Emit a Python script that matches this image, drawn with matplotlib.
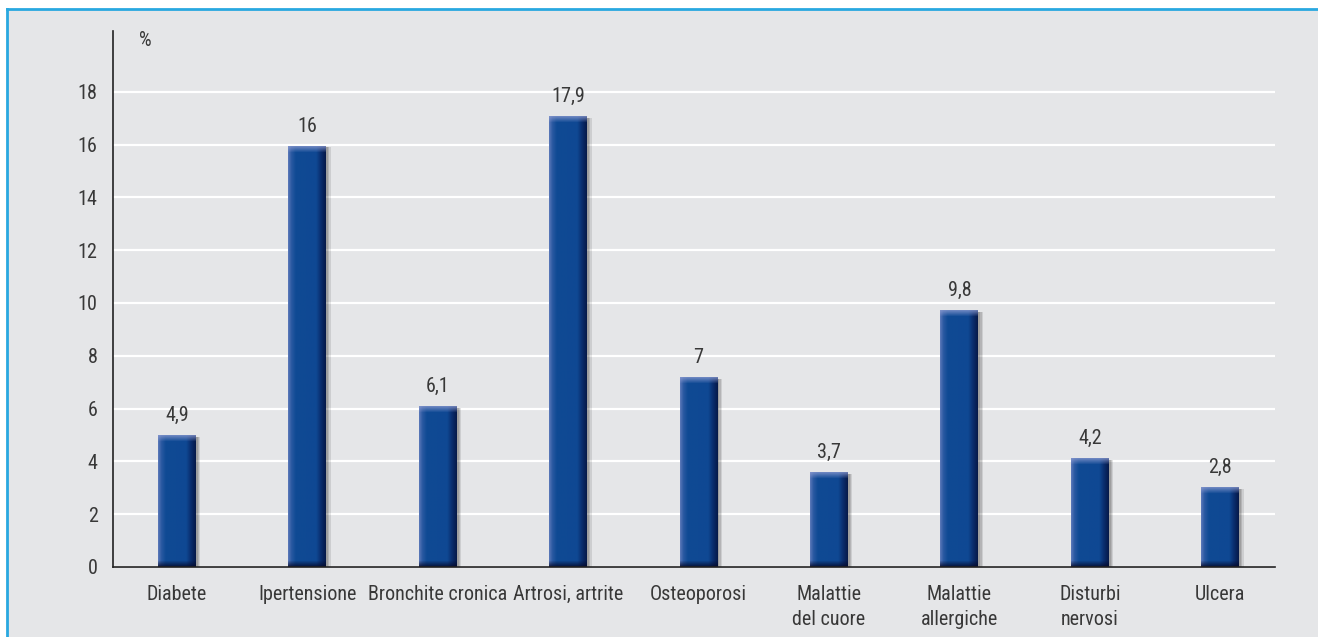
import numpy as np
import matplotlib.pyplot as plt
from matplotlib import font_manager as fm
from matplotlib.colors import to_rgb
from matplotlib.patches import Rectangle
from matplotlib.lines import Line2D

# Data
categories = ['Diabete', 'Ipertensione', 'Bronchite cronica', 'Artrosi, artrite',
              'Osteoporosi', 'Malattie\ndel cuore', 'Malattie\nallergiche',
              'Disturbi\nnervosi', 'Ulcera']
# bar heights as drawn in the picture
bar_heights = [4.97, 15.94, 6.07, 17.05, 7.18, 3.57, 9.72, 4.12, 3.02]
# values printed above the bars
value_labels = ['4,9', '16', '6,1', '17,9', '7', '3,7', '9,8', '4,2', '2,8']
yticks = [0, 2, 4, 6, 8, 10, 12, 14, 16, 18]

W, H = 1318, 637

# pick a narrow sans if one is installed
available = {f.name for f in fm.fontManager.ttflist}
narrow = None
for name in ['Liberation Sans Narrow', 'Arial Narrow', 'Roboto Condensed',
             'Archivo Narrow', 'PT Sans Narrow', 'Pragati Narrow', 'Asap Condensed',
             'IBM Plex Sans Condensed', 'Encode Sans Condensed']:
    if name in available:
        narrow = name
        break
families = ([narrow] if narrow else []) + ['Liberation Sans', 'DejaVu Sans']
plt.rcParams['font.family'] = families
fsize = 14.5 if narrow else 12
text_color = '#383838'

fig = plt.figure(figsize=(W / 100, H / 100), dpi=100)
fig.patch.set_facecolor('white')

# gray panel with blue left/top border
fig.patches.append(Rectangle((7 / W, 0), 1, 1 - 9 / H, transform=fig.transFigure,
                             facecolor='#e5e6e8', edgecolor='none', zorder=-2))
border = '#29a8e0'
fig.lines.append(Line2D([7 / W, 7 / W], [0, 1 - 9 / H], transform=fig.transFigure,
                        color=border, lw=2, zorder=-1))
fig.lines.append(Line2D([7 / W, 1], [1 - 9 / H, 1 - 9 / H], transform=fig.transFigure,
                        color=border, lw=2, zorder=-1))

ax = fig.add_axes([113 / W, 1 - 567 / H, (1275 - 113) / W, (567 - 31) / H])
ax.set_facecolor('none')

ymax = 20.3
width = 0.29
x = np.arange(len(categories))

# horizontal shading of the bar body
stops = [0.0, 0.08, 0.2, 0.75, 0.88, 1.0]
cols = [to_rgb(c) for c in ['#5a78b8', '#2c5aa2', '#0f4a94', '#0f4893', '#0a2c6c', '#061a4a']]
u = np.linspace(0, 1, 60)
row = np.stack([np.interp(u, stops, [c[i] for c in cols]) for i in range(3)], axis=-1)

ppu = (567 - 31) / ymax  # pixels per data unit
cap_top = np.array(to_rgb('#8a9ad0'))
cap_bot = np.array(to_rgb('#050c30'))

for xi, v in zip(x, bar_heights):
    # soft shadow on the right
    for k, a in [(0.035, 0.10), (0.025, 0.12), (0.015, 0.12)]:
        ax.bar(xi + k, v - 0.05, width, color='black', alpha=a, zorder=2, linewidth=0)
    ny = max(int(v * ppu), 10)
    img = np.repeat(row[None, :, :], ny, axis=0).copy()
    for r in range(6):  # light cap on top
        t = 1 - r / 6
        img[r] = img[r] * (1 - 0.75 * t) + cap_top * 0.75 * t
    for r in range(6):  # dark foot
        t = (r + 1) / 6
        img[ny - 6 + r] = img[ny - 6 + r] * (1 - 0.85 * t) + cap_bot * 0.85 * t
    ax.imshow(img, extent=(xi - width / 2, xi + width / 2, 0, v), aspect='auto',
              interpolation='bilinear', zorder=3)

for xi, v, lab in zip(x, bar_heights, value_labels):
    ax.text(xi, v + 0.55, lab, ha='center', va='baseline', fontsize=fsize, color=text_color)

ax.set_xlim(-0.49, 8.42)
ax.set_ylim(0, ymax)
ax.set_yticks(yticks)
ax.set_xticks(x)
ax.set_xticklabels(categories, fontsize=fsize, color=text_color, linespacing=1.4)
ax.tick_params(axis='y', length=0, pad=11, labelsize=fsize, labelcolor=text_color)
ax.tick_params(axis='x', length=0, pad=13)
ax.yaxis.grid(True, color='white', lw=1.6)
ax.set_axisbelow(True)
for s in ['top', 'right']:
    ax.spines[s].set_visible(False)
for s in ['left', 'bottom']:
    ax.spines[s].set_color('#222222')
    ax.spines[s].set_linewidth(1.2)
    ax.spines[s].set_zorder(4)

fig.text(145 / W, 1 - 41 / H, '%', ha='center', va='center', fontsize=fsize, color=text_color)

fig.savefig('out.png', dpi=100)
